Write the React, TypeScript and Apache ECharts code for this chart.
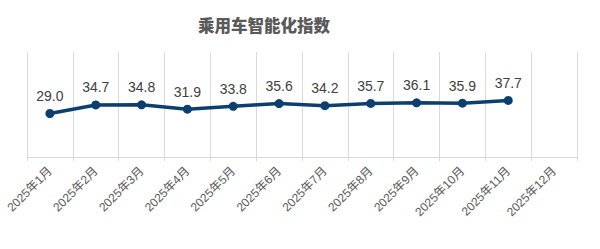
import React, { useEffect, useRef } from "react";
import * as echarts from "echarts";

const title = "乘用车智能化指数";
const categories = [
  "2025年1月", "2025年2月", "2025年3月", "2025年4月", "2025年5月", "2025年6月",
  "2025年7月", "2025年8月", "2025年9月", "2025年10月", "2025年11月", "2025年12月",
];
const values: (number | null)[] = [29.0, 34.7, 34.8, 31.9, 33.8, 35.6, 34.2, 35.7, 36.1, 35.9, 37.7, null];

const FONT = "'Liberation Sans', Arial, 'Noto Sans CJK SC', sans-serif";

export default function App() {
  const ref = useRef<HTMLDivElement>(null);
  useEffect(() => {
    if (!ref.current) return;
    const chart = echarts.init(ref.current, undefined, { renderer: "svg" });
    chart.setOption({
      animation: false,
      backgroundColor: "#ffffff",
      title: {
        text: title,
        left: 193,
        top: 12,
        textStyle: {
          fontFamily: "'Noto Sans CJK SC', sans-serif",
          fontSize: 16.5,
          fontWeight: 900,
          color: "#595959",
        },
      },
      grid: { left: 27, right: 23, top: 52, bottom: 92, containLabel: false },
      xAxis: {
        type: "category",
        data: categories,
        boundaryGap: true,
        axisLine: { show: true, lineStyle: { color: "#d9d9d9", width: 1 } },
        axisTick: { show: true, length: 4, lineStyle: { color: "#d9d9d9" } },
        splitLine: { show: true, lineStyle: { color: "#d9d9d9", width: 1 } },
        axisLabel: {
          rotate: 45,
          interval: 0,
          margin: 12,
          fontSize: 12,
          color: "#595959",
          fontFamily: FONT,
        },
      },
      yAxis: {
        type: "value",
        min: 0,
        max: 70,
        show: false,
        splitLine: { show: false },
      },
      series: [
        {
          type: "line",
          data: values,
          symbol: "circle",
          symbolSize: 9,
          lineStyle: { color: "#0b3f6e", width: 3.5 },
          itemStyle: { color: "#0b3f6e" },
          label: {
            show: true,
            position: "top",
            distance: 6,
            fontSize: 14,
            color: "#404040",
            fontFamily: FONT,
            formatter: (p: any) => (p.value == null ? "" : Number(p.value).toFixed(1)),
          },
        },
      ],
    });
    return () => chart.dispose();
  }, []);
  return (
    <div
      ref={ref}
      style={{ position: "fixed", left: 0, top: 0, width: 600, height: 249 }}
    />
  );
}
